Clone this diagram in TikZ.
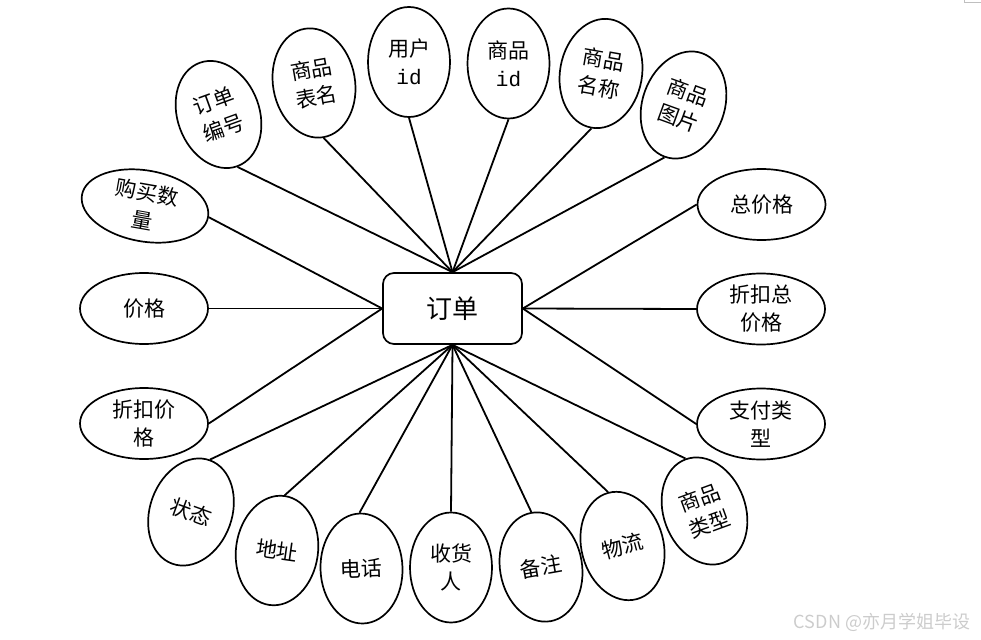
\documentclass[tikz,border=0pt]{standalone}
\usepackage{fontspec}
\setmainfont{Noto Sans CJK SC}
\newfontfamily\idfont{Liberation Mono}
\newfontfamily\wmfont{Noto Sans CJK SC}
\usetikzlibrary{shapes.geometric}
\begin{document}
\begin{tikzpicture}[x=1pt,y=-1pt,line width=1.8pt,
  attrv/.style={ellipse, draw, line width=1.7pt, minimum width=82pt, minimum height=110pt, inner sep=0pt, align=center, font=\fontsize{21}{28}\selectfont},
  attrh/.style={ellipse, draw, line width=1.7pt, minimum width=128pt, minimum height=71pt, inner sep=0pt, align=center, font=\fontsize{21}{28}\selectfont},
  ent/.style={rectangle, rounded corners=11pt, draw, line width=1.7pt, minimum width=139pt, minimum height=71pt, inner sep=0pt, font=\fontsize{26}{30}\selectfont},
  link/.style={draw, line width=1.8pt}]
\useasboundingbox (0,0) rectangle (981,639);
\node[ent] (c) at (452.5,308.5) {订单};
% top group
\node[attrv, rotate=20]  (e1)  at (218.5,114.5) {订单\\编号};
\node[attrv, rotate=10]  (e2)  at (314,83)      {商品\\表名};
\node[attrv]             (e3)  at (409,62)      {用户\\{\idfont id}};
\node[attrv]             (e4)  at (508.5,63.5)  {商品\\{\idfont id}};
\node[attrv, rotate=-10] (e5)  at (601,73.5)    {商品\\名称};
\node[attrv, rotate=-20] (e6)  at (683.5,105)   {商品\\图片};
% right group
\node[attrh]             (e7)  at (761.5,204.5) {总价格};
\node[attrh]             (e8)  at (761,309)     {折扣总\\价格};
\node[attrh]             (e9)  at (761,424)     {支付类\\型};
% bottom group
\node[attrv, rotate=20]  (e10) at (704.5,511)   {商品\\类型};
\node[attrv, rotate=15]  (e11) at (622.5,546)   {物流};
\node[attrv, rotate=10]  (e12) at (541,567)     {备注};
\node[attrv]             (e13) at (451,567.5)   {收货\\人};
\node[attrv, rotate=2]   (e14) at (361.5,568.5) {电话};
\node[attrv, rotate=-8]  (e15) at (277,550.5)   {地址};
\node[attrv, rotate=-20] (e16) at (191,512)     {状态};
% left group
\node[attrh]             (e17) at (144,423.5)   {折扣价\\格};
\node[attrh]             (e18) at (144,308.5)   {价格};
\node[attrh, rotate=-10] (e19) at (145,206)     {购买数\\量};
% connectors
\foreach \n in {e1,e2,e3,e4,e5,e6} \draw[link] (c.north) -- (\n.south);
\foreach \n in {e7,e8,e9} \draw[link] (c.east) -- (\n.west);
\foreach \n in {e10,e11,e12,e13,e14,e15,e16} \draw[link] (c.south) -- (\n.north);
\foreach \n in {e17,e18,e19} \draw[link] (c.west) -- (\n.east);
% corner mark
\draw[gray!50, line width=1pt] (964,0) -- (964,3) -- (981,3);
% watermark
\node[anchor=west, inner sep=0pt, text=gray!40, font=\wmfont\fontsize{18}{18}\selectfont] (wm) at (793,622) {CSDN @亦月学姐毕设};
\end{tikzpicture}
\end{document}
